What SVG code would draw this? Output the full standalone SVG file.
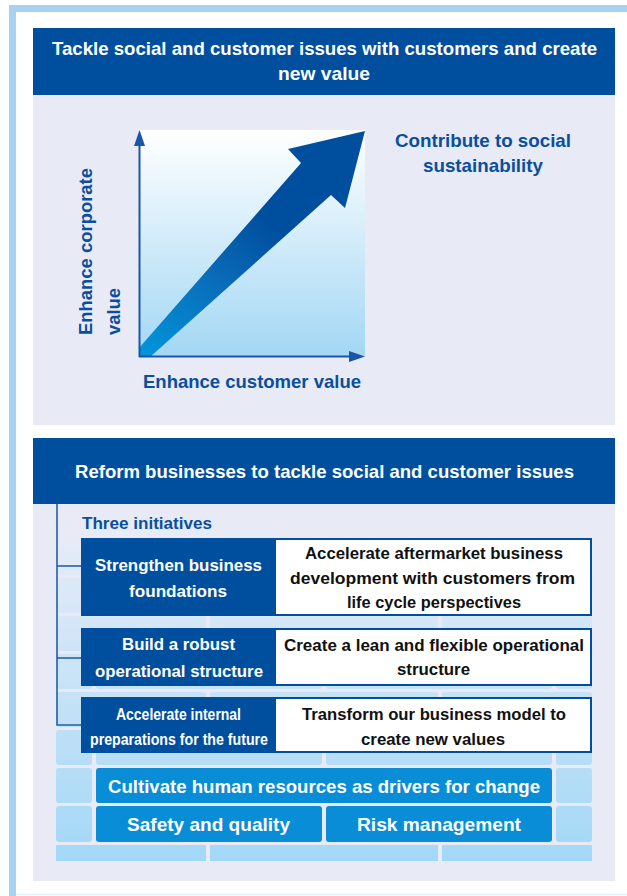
<svg xmlns="http://www.w3.org/2000/svg" width="627" height="896" viewBox="0 0 627 896">
<defs>
<linearGradient id="chartGrad" x1="0" y1="0" x2="0" y2="1">
<stop offset="0" stop-color="#ffffff"/>
<stop offset="1" stop-color="#a3d7f4"/>
</linearGradient>
<linearGradient id="arrowGrad" gradientUnits="userSpaceOnUse" x1="139" y1="356" x2="300" y2="170">
<stop offset="0" stop-color="#0096dc"/>
<stop offset="0.45" stop-color="#0a6bb8"/>
<stop offset="0.75" stop-color="#004f9f"/>
<stop offset="1" stop-color="#004f9f"/>
</linearGradient>
<linearGradient id="wallGrad" gradientUnits="userSpaceOnUse" x1="0" y1="540" x2="0" y2="861">
<stop offset="0" stop-color="#e6ebf7"/>
<stop offset="1" stop-color="#a2d8f6"/>
</linearGradient>
</defs>
<style>
.hdr{fill:#004f9f}
.panel{fill:#e8eaf5}
.wt{font-family:"Liberation Sans",Arial,sans-serif;font-weight:bold;fill:#ffffff}
.bt{font-family:"Liberation Sans",Arial,sans-serif;font-weight:bold;fill:#0a4f9e}
.kt{font-family:"Liberation Sans",Arial,sans-serif;font-weight:bold;fill:#111111}
.brick{fill:url(#wallGrad)}
.bb{fill:#0a8dd7}
.box{fill:#ffffff;stroke:#004f9f;stroke-width:2}
.dark{fill:#004f9f}
.axis{stroke:#1a56a6;stroke-width:2;fill:none}
.conn{stroke:#2260ad;stroke-width:1.6;fill:none}
</style>

<!-- outer frame -->
<rect x="0" y="0" width="627" height="896" fill="#ffffff"/>
<rect x="9" y="5" width="618" height="7" fill="#a8d3f0"/>
<rect x="9" y="5" width="7" height="891" fill="#a8d3f0"/>
<line x1="16" y1="894.5" x2="627" y2="894.5" stroke="#e3eff8" stroke-width="1.5"/>

<!-- top section -->
<g id="top-header">
<rect class="hdr" x="33" y="28" width="582" height="67"/>
<text class="wt" x="52" y="55" font-size="18.5" textLength="545" lengthAdjust="spacingAndGlyphs">Tackle social and customer issues with customers and create</text>
<text class="wt" x="278" y="80" font-size="18.5" textLength="92" lengthAdjust="spacingAndGlyphs">new value</text>
</g>
<rect class="panel" x="33" y="95" width="582" height="330"/>

<g id="chart">
<rect x="139" y="130" width="226" height="226" fill="url(#chartGrad)"/>
<polygon points="139,348 301,163 288,149 365,131 345,208 331,195 150,357 139,357" fill="url(#arrowGrad)"/>
<line class="axis" x1="139.5" y1="357" x2="139.5" y2="144"/>
<polygon points="139.5,130 134,146 145,146" fill="#1a56a6"/>
<line class="axis" x1="139" y1="356.5" x2="351" y2="356.5"/>
<polygon points="365,356.5 349,351 349,362" fill="#1a56a6"/>
</g>

<g id="label-social">
<text class="bt" x="395" y="147" font-size="18.5" textLength="176" lengthAdjust="spacingAndGlyphs">Contribute to social</text>
<text class="bt" x="423" y="172" font-size="18.5" textLength="120" lengthAdjust="spacingAndGlyphs">sustainability</text>
</g>
<g id="label-corporate">
<text class="bt" transform="translate(92,335) rotate(-90)" font-size="18.5" textLength="167" lengthAdjust="spacingAndGlyphs">Enhance corporate</text>
<text class="bt" transform="translate(120,335) rotate(-90)" font-size="18.5" textLength="47" lengthAdjust="spacingAndGlyphs">value</text>
</g>
<g id="label-customer">
<text class="bt" x="143" y="388" font-size="18.5" textLength="218" lengthAdjust="spacingAndGlyphs">Enhance customer value</text>
</g>

<!-- bottom section -->
<g id="reform-header">
<rect class="hdr" x="33" y="438" width="582" height="66"/>
<text class="wt" x="75" y="478" font-size="18.5" textLength="499" lengthAdjust="spacingAndGlyphs">Reform businesses to tackle social and customer issues</text>
</g>
<rect class="panel" x="33" y="504" width="582" height="377"/>

<g id="wall">
<rect class="brick" x="56" y="540" width="150" height="35" rx="3"/>
<rect class="brick" x="210" y="540" width="228" height="35" rx="3"/>
<rect class="brick" x="442" y="540" width="150" height="35" rx="3"/>
<rect class="brick" x="56" y="578" width="36" height="35" rx="3"/>
<rect class="brick" x="96" y="578" width="226" height="35" rx="3"/>
<rect class="brick" x="326" y="578" width="226" height="35" rx="3"/>
<rect class="brick" x="556" y="578" width="36" height="35" rx="3"/>
<rect class="brick" x="56" y="616" width="150" height="35" rx="3"/>
<rect class="brick" x="210" y="616" width="228" height="35" rx="3"/>
<rect class="brick" x="442" y="616" width="150" height="35" rx="3"/>
<rect class="brick" x="56" y="654" width="36" height="35" rx="3"/>
<rect class="brick" x="96" y="654" width="226" height="35" rx="3"/>
<rect class="brick" x="326" y="654" width="226" height="35" rx="3"/>
<rect class="brick" x="556" y="654" width="36" height="35" rx="3"/>
<rect class="brick" x="56" y="692" width="150" height="35" rx="3"/>
<rect class="brick" x="210" y="692" width="228" height="35" rx="3"/>
<rect class="brick" x="442" y="692" width="150" height="35" rx="3"/>
<rect class="brick" x="56" y="730" width="36" height="35" rx="3"/>
<rect class="brick" x="96" y="730" width="226" height="35" rx="3"/>
<rect class="brick" x="326" y="730" width="226" height="35" rx="3"/>
<rect class="brick" x="556" y="730" width="36" height="35" rx="3"/>
<rect class="brick" x="56" y="768" width="36" height="35" rx="3"/>
<rect class="brick" x="556" y="768" width="36" height="35" rx="3"/>
<rect class="brick" x="56" y="806" width="36" height="36" rx="3"/>
<rect class="brick" x="556" y="806" width="36" height="36" rx="3"/>
<rect class="brick" x="56" y="845" width="150" height="16"/>
<rect class="brick" x="210" y="845" width="228" height="16"/>
<rect class="brick" x="442" y="845" width="150" height="16"/>
</g>

<g id="connectors">
<polyline class="conn" points="57,504 57,725 82,725"/>
<line class="conn" x1="57" y1="566" x2="82" y2="566"/>
<line class="conn" x1="57" y1="658" x2="82" y2="658"/>
</g>

<g id="three-initiatives">
<text class="bt" x="82" y="529" font-size="16" textLength="130" lengthAdjust="spacingAndGlyphs">Three initiatives</text>
</g>

<g id="initiative-1">
<rect class="box" x="82" y="539" width="509" height="76"/>
<rect class="dark" x="82" y="538" width="194" height="78"/>
<text class="wt" x="95" y="571" font-size="16.3" textLength="167" lengthAdjust="spacingAndGlyphs">Strengthen business</text>
<text class="wt" x="129" y="597" font-size="16.3" textLength="98" lengthAdjust="spacingAndGlyphs">foundations</text>
<text class="kt" x="305" y="559" font-size="16.3" textLength="258" lengthAdjust="spacingAndGlyphs">Accelerate aftermarket business</text>
<text class="kt" x="290" y="584" font-size="16.3" textLength="285" lengthAdjust="spacingAndGlyphs">development with customers from</text>
<text class="kt" x="347" y="608" font-size="16.3" textLength="174" lengthAdjust="spacingAndGlyphs">life cycle perspectives</text>
</g>

<g id="initiative-2">
<rect class="box" x="82" y="629" width="509" height="56"/>
<rect class="dark" x="82" y="628" width="194" height="58"/>
<text class="wt" x="122" y="650" font-size="16.3" textLength="113" lengthAdjust="spacingAndGlyphs">Build a robust</text>
<text class="wt" x="95" y="677" font-size="16.3" textLength="168" lengthAdjust="spacingAndGlyphs">operational structure</text>
<text class="kt" x="284" y="651" font-size="16.3" textLength="300" lengthAdjust="spacingAndGlyphs">Create a lean and flexible operational</text>
<text class="kt" x="397" y="675" font-size="16.3" textLength="73" lengthAdjust="spacingAndGlyphs">structure</text>
</g>

<g id="initiative-3">
<rect class="box" x="82" y="698" width="509" height="54"/>
<rect class="dark" x="82" y="697" width="194" height="56"/>
<text class="wt" x="116" y="720" font-size="16" textLength="125" lengthAdjust="spacingAndGlyphs">Accelerate internal</text>
<text class="wt" x="90" y="745" font-size="16" textLength="178" lengthAdjust="spacingAndGlyphs">preparations for the future</text>
<text class="kt" x="302" y="720" font-size="16.3" textLength="264" lengthAdjust="spacingAndGlyphs">Transform our business model to</text>
<text class="kt" x="361" y="745" font-size="16.3" textLength="144" lengthAdjust="spacingAndGlyphs">create new values</text>
</g>

<g id="human-resources">
<rect class="bb" x="96" y="768" width="456" height="35" rx="3"/>
<text class="wt" x="108" y="793" font-size="18.5" textLength="432" lengthAdjust="spacingAndGlyphs">Cultivate human resources as drivers for change</text>
</g>
<g id="safety-quality">
<rect class="bb" x="96" y="806" width="226" height="36" rx="3"/>
<text class="wt" x="127" y="831" font-size="18.5" textLength="163" lengthAdjust="spacingAndGlyphs">Safety and quality</text>
</g>
<g id="risk-management">
<rect class="bb" x="326" y="806" width="226" height="36" rx="3"/>
<text class="wt" x="357" y="831" font-size="18.5" textLength="164" lengthAdjust="spacingAndGlyphs">Risk management</text>
</g>
</svg>
